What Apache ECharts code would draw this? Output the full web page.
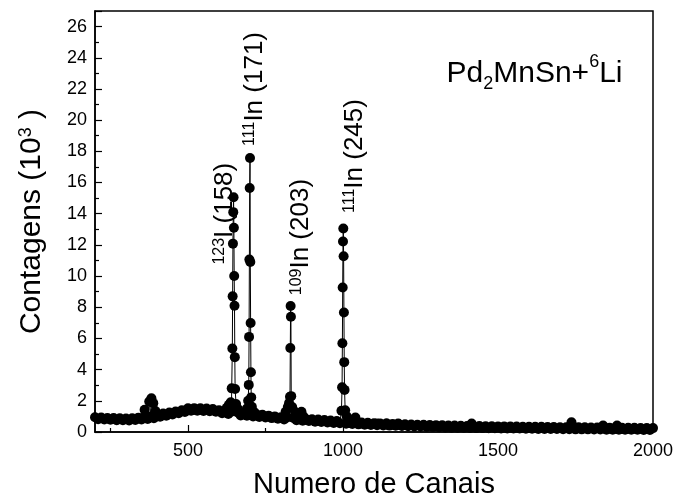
<!DOCTYPE html>
<html>
<head>
<meta charset="utf-8">
<script src="https://cdn.jsdelivr.net/npm/echarts@6/dist/echarts.min.js"></script>
<style>
html, body { margin: 0; padding: 0; background: #fff; }
#chart { width: 677px; height: 502px; }
</style>
</head>
<body>
<div id="chart"></div>
<script>
// baseline of the spectrum, one reading every 10 channels from 200 to 2000 (counts in 10^3)
const baseStart = 200;
const baseStep = 10;
const baseCounts = [
  0.95, 0.82, 0.93, 0.80, 0.90, 0.78, 0.89, 0.76, 0.88, 0.75,
  0.86, 0.74, 0.88, 0.77, 0.92, 0.80, 0.96, 0.84, 1.00, 0.88,
  1.12, 0.98, 1.18, 1.05, 1.25, 1.12, 1.32, 1.20, 1.40, 1.28,
  1.52, 1.36, 1.53, 1.37, 1.52, 1.35, 1.50, 1.33, 1.47, 1.30,
  1.40, 1.20, 1.36, 1.16, 1.30, 1.10, 1.25, 1.06, 1.22, 1.04,
  1.18, 1.00, 1.15, 0.97, 1.10, 0.93, 1.05, 0.89, 1.00, 0.85,
  0.95, 0.80, 0.93, 0.78, 0.90, 0.75, 0.87, 0.72, 0.84, 0.70,
  0.82, 0.66, 0.80, 0.64, 0.77, 0.61, 0.74, 0.58, 0.71, 0.56,
  0.68, 0.53, 0.66, 0.51, 0.63, 0.49, 0.61, 0.47, 0.59, 0.45,
  0.56, 0.43, 0.55, 0.42, 0.54, 0.41, 0.52, 0.40, 0.50, 0.38,
  0.49, 0.37, 0.48, 0.36, 0.47, 0.35, 0.46, 0.34, 0.45, 0.33,
  0.44, 0.30, 0.43, 0.29, 0.42, 0.28, 0.41, 0.27, 0.40, 0.27,
  0.39, 0.26, 0.38, 0.25, 0.38, 0.25, 0.37, 0.24, 0.37, 0.24,
  0.36, 0.23, 0.36, 0.23, 0.35, 0.22, 0.35, 0.22, 0.34, 0.21,
  0.34, 0.21, 0.33, 0.20, 0.33, 0.20, 0.32, 0.19, 0.32, 0.19,
  0.31, 0.18, 0.31, 0.18, 0.30, 0.17, 0.30, 0.17, 0.30, 0.17,
  0.29, 0.16, 0.29, 0.16, 0.28, 0.15, 0.28, 0.15, 0.28, 0.15,
  0.27, 0.14, 0.27, 0.14, 0.27, 0.14, 0.26, 0.13, 0.26, 0.13,
  0.25
];

// small bumps on the baseline
const bumpCh  = [360, 375, 382, 388, 395, 625, 632, 638, 655, 660, 690, 694, 706, 712,
                 815, 822, 826, 836, 845, 866, 872, 995, 1007, 1012, 1040, 1110, 1141, 1178,
                 1415, 1737, 1839, 1884];
const bumpCnt = [1.42, 1.95, 2.17, 1.85, 1.35, 1.55, 1.75, 1.90, 1.80, 1.50, 1.50, 2.00, 1.62, 1.30,
                 1.30, 1.60, 1.85, 1.60, 1.30, 1.30, 1.00, 1.36, 1.40, 1.00, 0.93, 0.55, 0.55, 0.55,
                 0.55, 0.63, 0.42, 0.42];

// peaks
const peakI123Ch   = [641, 643, 644, 645, 646, 647, 648, 649, 650, 651, 652];
const peakI123Cnt  = [2.80, 5.35, 8.70, 12.08, 14.10, 15.05, 13.10, 10.00, 8.10, 4.80, 2.76];
const peakIn171Ch  = [696, 697, 698, 699, 700, 701, 702, 703, 704];
const peakIn171Cnt = [3.02, 6.10, 11.06, 15.65, 17.57, 10.90, 6.99, 3.83, 2.22];
const peakIn203Ch  = [829, 830, 831, 832, 833];
const peakIn203Cnt = [2.26, 5.39, 8.08, 7.39, 2.30];
const peakIn245Ch  = [997, 998, 999, 1000, 1001, 1002, 1003, 1004, 1005];
const peakIn245Cnt = [2.87, 5.69, 9.27, 12.22, 13.05, 11.27, 7.66, 4.48, 2.70];

const yTicks = [0, 2, 4, 6, 8, 10, 12, 14, 16, 18, 20, 22, 24, 26];
const xMajor = [500, 1000, 1500, 2000];
const xMinor = [250, 750, 1250, 1750];

const peaks = [
  [peakI123Ch, peakI123Cnt],
  [peakIn171Ch, peakIn171Cnt],
  [peakIn203Ch, peakIn203Cnt],
  [peakIn245Ch, peakIn245Cnt]
];

const points = [];
baseCounts.forEach((v, i) => {
  const ch = baseStart + i * baseStep;
  const inPeak = peaks.some(p => ch >= p[0][0] && ch <= p[0][p[0].length - 1]);
  if (!inPeak) points.push([ch, v]);
});
bumpCh.forEach((ch, i) => points.push([ch, bumpCnt[i]]));
peaks.forEach(p => p[0].forEach((ch, i) => points.push([ch, p[1][i]])));
points.sort((a, b) => a[0] - b[0]);

const font = 'Liberation Sans';
const supMain = {
  m: { fontSize: 26, fontFamily: font, color: '#000', verticalAlign: 'bottom' },
  s: { fontSize: 16, fontFamily: font, color: '#000', verticalAlign: 'top' }
};

const annotations = [
  { value: [619, 14.0], text: '{s|123}{m|I (158)}' },
  { value: [716, 22.0], text: '{s|111}{m|In (171)}' },
  { value: [865, 12.5], text: '{s|109}{m|In (203)}' },
  { value: [1039, 17.7], text: '{s|111}{m|In (245)}' }
];

const chart = echarts.init(document.getElementById('chart'));

const option = {
  animation: false,
  backgroundColor: '#fff',
  grid: {
    left: 95, right: 24, top: 11, bottom: 70,
    outerBoundsMode: 'none',
    containLabel: false,
    show: true, borderColor: '#000', borderWidth: 1.5, backgroundColor: 'transparent'
  },
  xAxis: [
    {
      type: 'value', min: 200, max: 2000, position: 'bottom',
      axisLine: { lineStyle: { color: '#000', width: 1.5 } },
      axisTick: { inside: true, length: 7, customValues: xMajor, lineStyle: { color: '#000', width: 1.2 } },
      axisLabel: {
        customValues: xMajor, color: '#000', fontSize: 18, fontFamily: font, margin: 10,
        formatter: v => String(v)
      },
      splitLine: { show: false },
      name: 'Numero de Canais',
      nameLocation: 'middle',
      nameGap: 38,
      nameTextStyle: { fontSize: 29, fontFamily: font, color: '#000' }
    },
    {
      type: 'value', min: 200, max: 2000, position: 'bottom',
      axisLine: { show: false },
      axisTick: { inside: true, length: 4, customValues: xMinor, lineStyle: { color: '#000', width: 1.2 } },
      axisLabel: { show: false },
      splitLine: { show: false }
    }
  ],
  yAxis: {
    type: 'value', min: 0, max: 27, interval: 2,
    axisLine: { show: true, lineStyle: { color: '#000', width: 1.5 } },
    axisTick: { inside: true, length: 7, lineStyle: { color: '#000', width: 1.2 } },
    minorTick: { show: true, splitNumber: 2, length: 4, lineStyle: { color: '#000', width: 1.2 } },
    axisLabel: {
      color: '#000', fontSize: 18, fontFamily: font, margin: 8,
      formatter: v => (yTicks.indexOf(v) >= 0 ? String(v) : '')
    },
    splitLine: { show: false },
    name: '{m|Contagens (10}{s|3}{m| )}',
    nameLocation: 'middle',
    nameRotate: 90,
    nameGap: 48,
    nameTextStyle: {
      rich: {
        m: { fontSize: 30, fontFamily: font, color: '#000', verticalAlign: 'bottom' },
        s: { fontSize: 18, fontFamily: font, color: '#000', verticalAlign: 'top' }
      }
    }
  },
  series: [
    {
      type: 'line',
      data: points,
      symbol: 'circle',
      symbolSize: 10,
      showSymbol: true,
      lineStyle: { color: '#000', width: 1 },
      itemStyle: { color: '#000', borderWidth: 0 },
      silent: true
    },
    {
      type: 'scatter',
      symbolSize: 0,
      silent: true,
      itemStyle: { opacity: 1 },
      data: annotations.map(a => ({ value: a.value, text: a.text })),
      label: {
        show: true, position: 'inside', rotate: 90,
        align: 'center', verticalAlign: 'middle',
        color: '#000', opacity: 1, textBorderWidth: 0,
        formatter: p => p.data.text,
        rich: supMain
      }
    },
    {
      type: 'scatter',
      symbolSize: 0,
      silent: true,
      itemStyle: { opacity: 1 },
      data: [{ value: [1334, 23.0], text: '{m|Pd}{b|2}{m|MnSn+}{s|6}{m|Li}' }],
      label: {
        show: true, position: 'inside',
        align: 'left', verticalAlign: 'middle',
        color: '#000', opacity: 1, textBorderWidth: 0,
        formatter: p => p.data.text,
        rich: {
          m: { fontSize: 30, fontFamily: font, color: '#000', verticalAlign: 'middle', lineHeight: 40 },
          s: { fontSize: 18, fontFamily: font, color: '#000', verticalAlign: 'top', lineHeight: 40 },
          b: { fontSize: 18, fontFamily: font, color: '#000', verticalAlign: 'bottom', lineHeight: 40 }
        }
      }
    }
  ]
};

chart.setOption(option);
</script>
</body>
</html>
